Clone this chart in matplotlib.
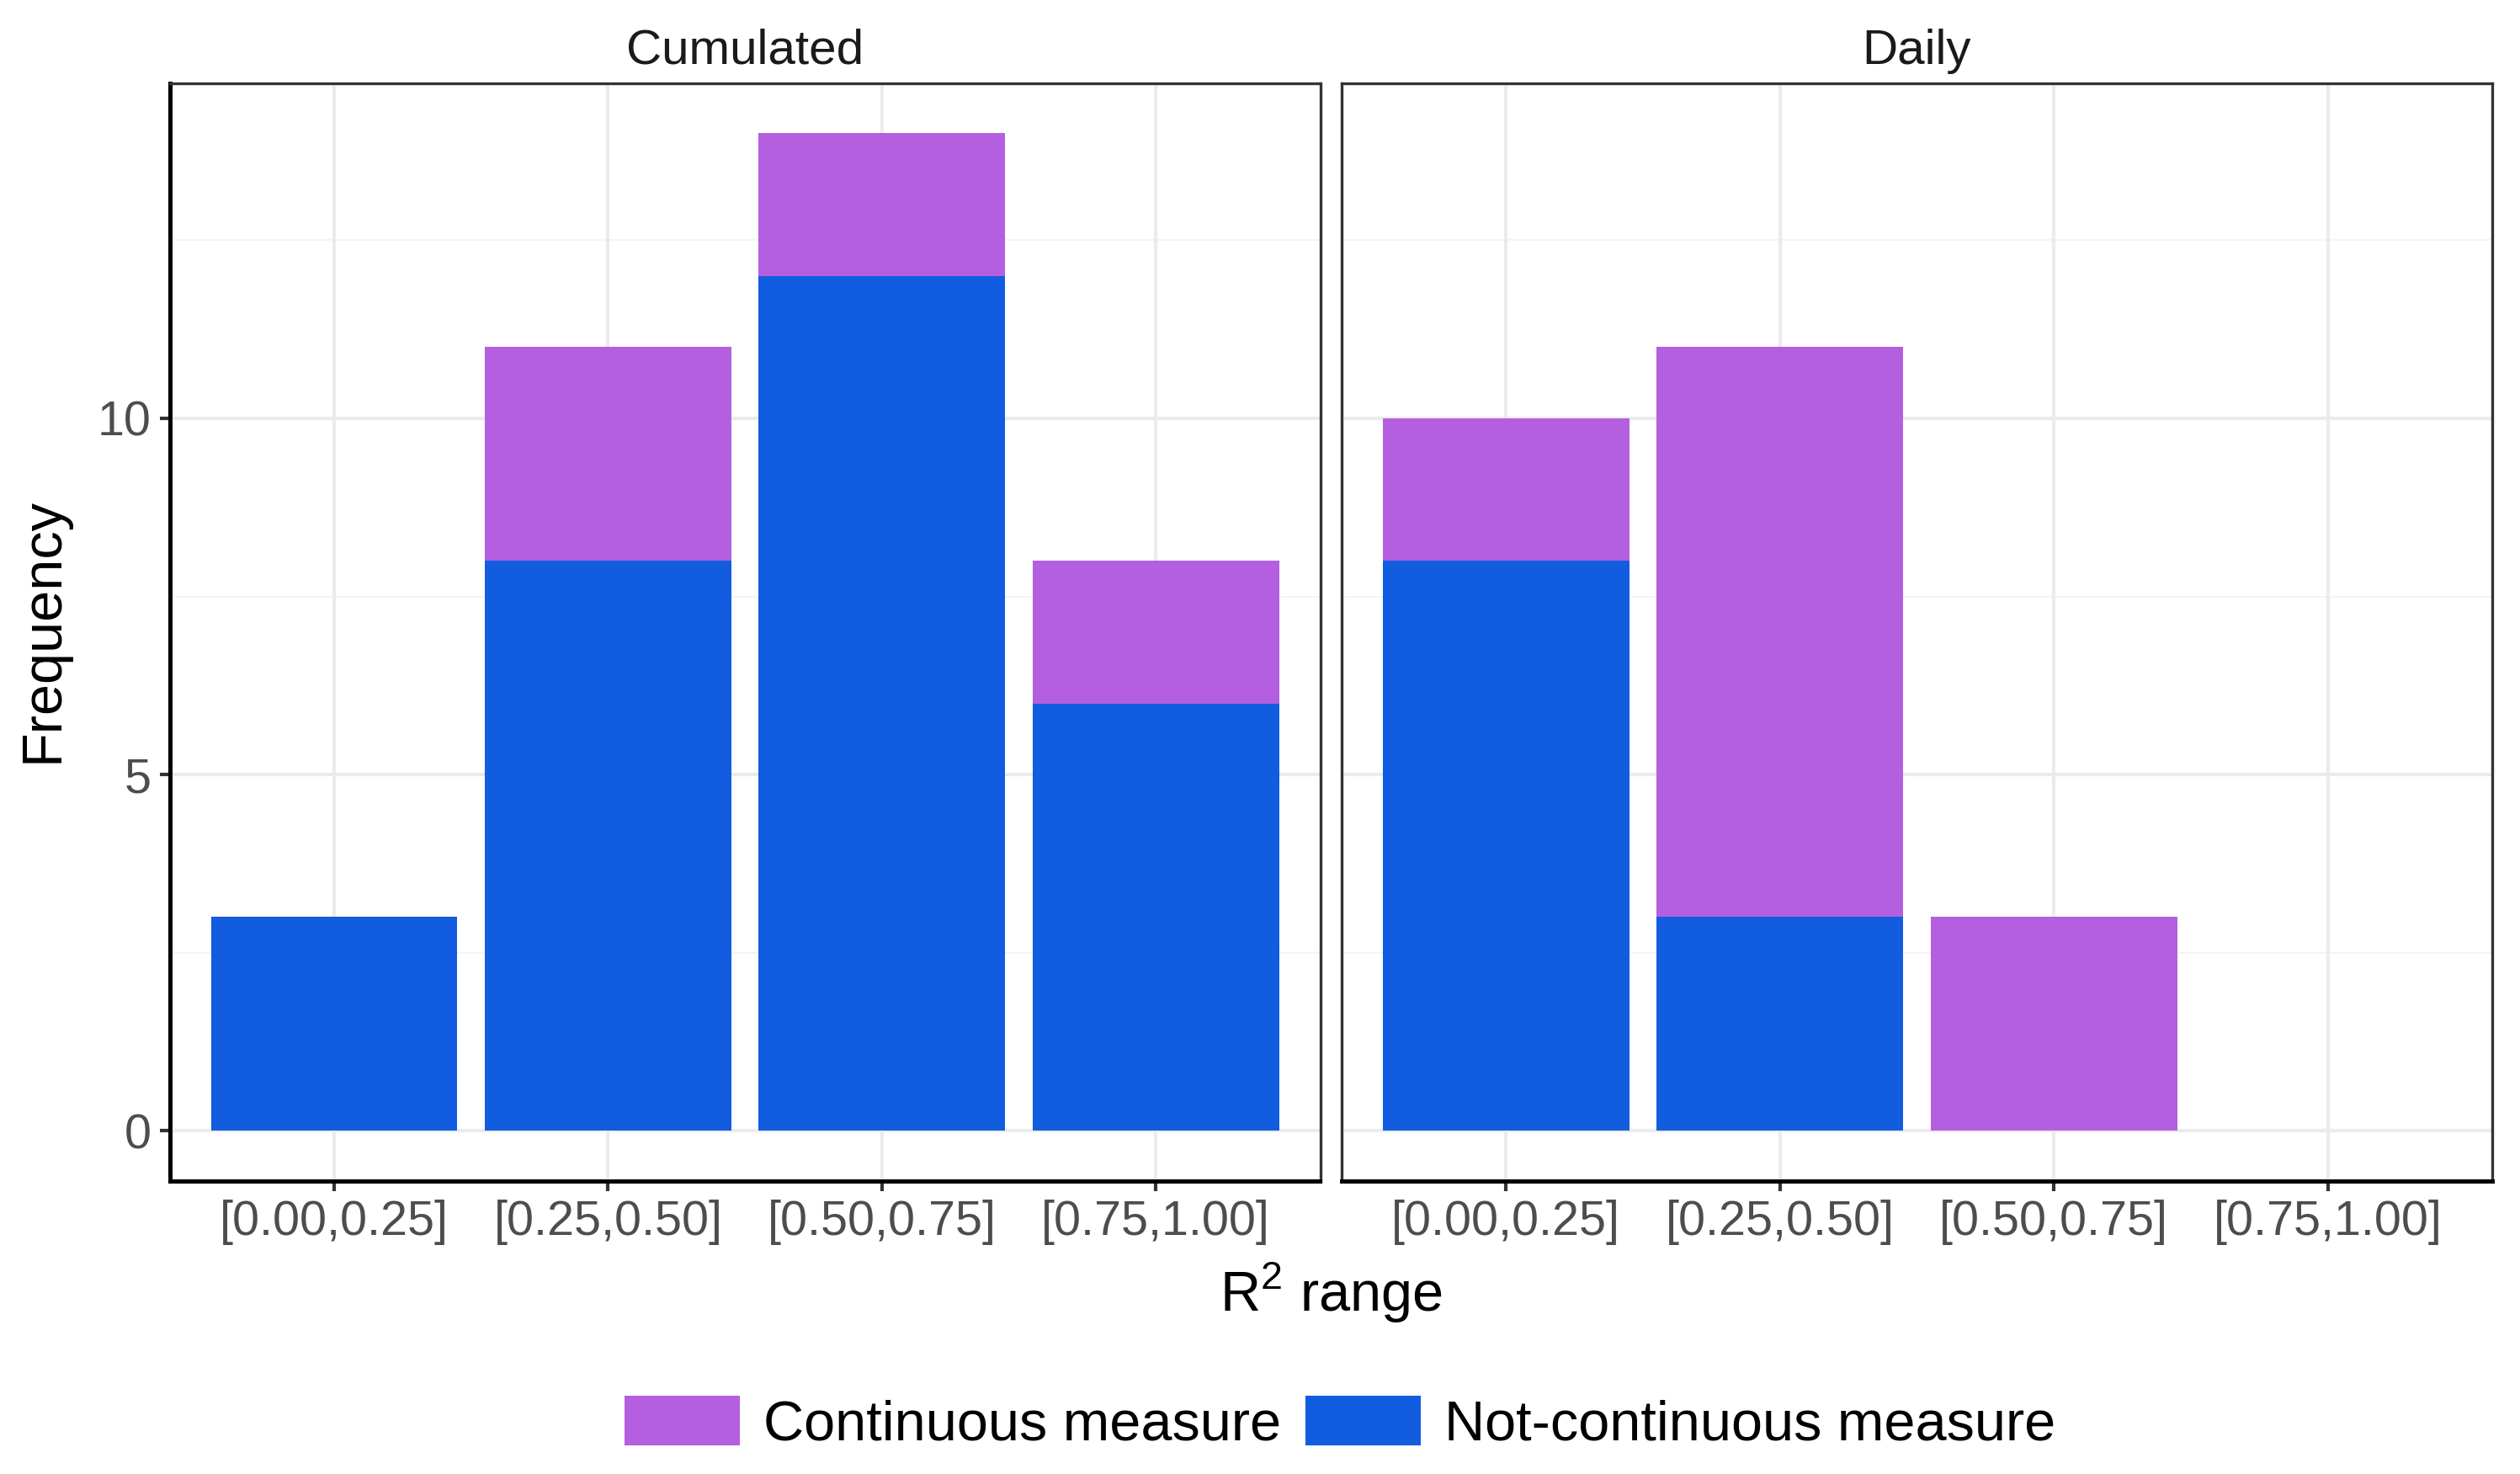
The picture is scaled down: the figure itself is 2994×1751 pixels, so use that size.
import matplotlib
matplotlib.use("Agg")
import matplotlib.pyplot as plt
from matplotlib.patches import Patch
import numpy as np

plt.rcParams['font.family'] = ['Liberation Sans', 'DejaVu Sans']
plt.rcParams['mathtext.fontset'] = 'custom'
plt.rcParams['mathtext.rm'] = 'Liberation Sans'

categories = ["[0.00,0.25]", "[0.25,0.50]", "[0.50,0.75]", "[0.75,1.00]"]
panels = ["Cumulated", "Daily"]
not_continuous = {"Cumulated": [3, 8, 12, 6], "Daily": [8, 3, 0, 0]}
continuous = {"Cumulated": [0, 3, 2, 2], "Daily": [2, 8, 3, 0]}
y_ticks = [0, 5, 10]
y_minor = [2.5, 7.5, 12.5]
series_labels = ["Continuous measure", "Not-continuous measure"]
col_cont = "#B35FE0"
col_notc = "#125CE0"

W, H = 2994, 1751
fig = plt.figure(figsize=(W / 300, H / 300), dpi=300)

bottom = 1 - 1402.7 / H
top = 1 - 99 / H
ax_h = top - bottom
ax_lefts = [201.7 / W, 1594 / W]
ax_w = 1366.8 / W

grid_col = "#EBEBEB"
x = np.arange(len(categories))
axes = []
for i, name in enumerate(panels):
    ax = fig.add_axes([ax_lefts[i], bottom, ax_w, ax_h])
    axes.append(ax)
    ax.set_xlim(-0.6, len(categories) - 0.4)
    ax.set_ylim(-0.7, 14.7)
    ax.set_axisbelow(True)
    for yy in y_minor:
        ax.axhline(yy, color="#F4F4F4", lw=0.5, zorder=0)
    for yy in y_ticks:
        ax.axhline(yy, color=grid_col, lw=1.0, zorder=0)
    for xx in x:
        ax.axvline(xx, color=grid_col, lw=1.0, zorder=0)
    nc = np.array(not_continuous[name])
    cc = np.array(continuous[name])
    ax.bar(x, nc, width=0.9, color=col_notc, zorder=2, linewidth=0)
    ax.bar(x, cc, width=0.9, bottom=nc, color=col_cont, zorder=2, linewidth=0)
    ax.set_xticks(x)
    ax.set_xticklabels(categories)
    ax.set_yticks(y_ticks)
    ax.tick_params(axis='x', length=2.8, width=1.0, color="#333333",
                   labelsize=13.8, labelcolor="#4D4D4D", pad=2.5)
    ax.tick_params(axis='y', length=2.8, width=1.0, color="#333333",
                   labelsize=13.8, labelcolor="#4D4D4D", pad=2.5)
    for s in ax.spines.values():
        s.set_color("#333333")
        s.set_linewidth(0.8)
    ax.spines['bottom'].set_color("black")
    ax.spines['bottom'].set_linewidth(1.2)
    if i == 0:
        ax.spines['left'].set_color("black")
        ax.spines['left'].set_linewidth(1.2)
    else:
        ax.tick_params(axis='y', left=False, labelleft=False)
    fig.text(ax_lefts[i] + ax_w / 2, 1 - 76 / H, name, ha='center',
             va='baseline', fontsize=14, color="#1A1A1A")

fig.text(52 / W, 1 - 748 / H, "Frequency", rotation=90, ha='center',
         va='center', fontsize=16, color="black")
fig.text(1581 / W, 1 - 1558 / H, r"R$^{\mathrm{2}}$ range", ha='center',
         va='baseline', fontsize=16, color="black")

handles = [Patch(facecolor=col_cont, edgecolor='none'),
           Patch(facecolor=col_notc, edgecolor='none')]
fig.legend(handles, series_labels, loc='center', ncol=2,
           bbox_to_anchor=(1592 / W, 1 - 1691 / H), frameon=False,
           fontsize=16, handlelength=2.05, handleheight=0.98,
           handletextpad=0.42, columnspacing=0.44, borderaxespad=0,
           borderpad=0)

fig.savefig("out.png", dpi=300)
